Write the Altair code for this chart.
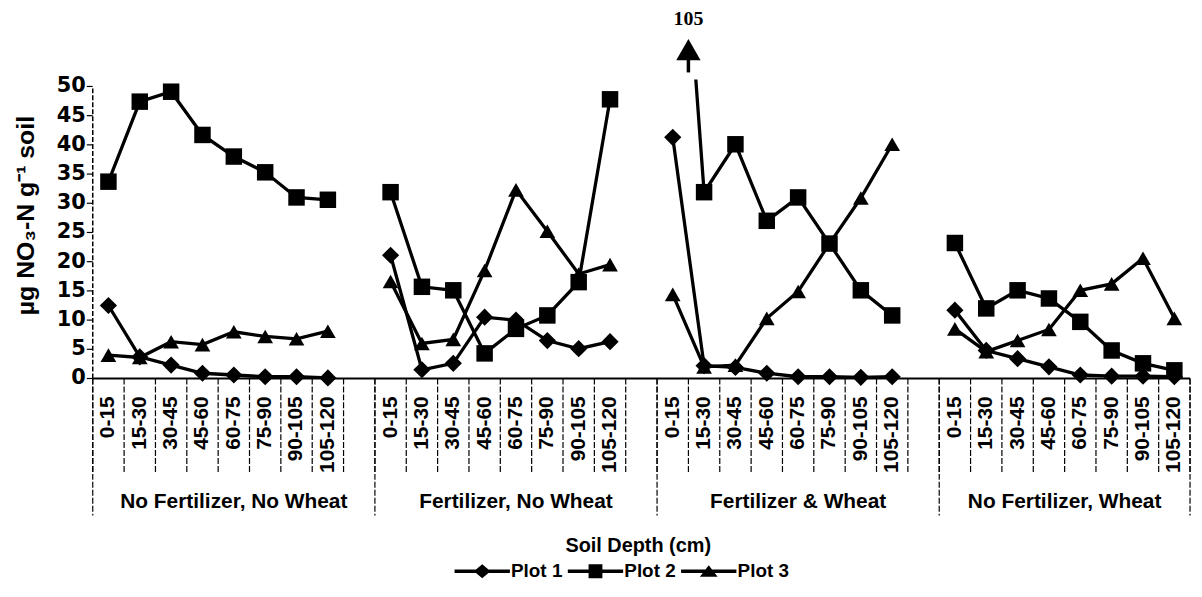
import altair as alt
import pandas as pd

# ---------------- data ----------------
depths = ["0-15", "15-30", "30-45", "45-60", "60-75", "75-90", "90-105", "105-120"]
treatments = ["No Fertilizer, No Wheat", "Fertilizer, No Wheat",
              "Fertilizer & Wheat", "No Fertilizer, Wheat"]
series_names = ["Plot 1", "Plot 2", "Plot 3"]

# values per treatment (8 depths each), in treatment order
plot1 = [12.5, 3.7, 2.3, 0.9, 0.6, 0.3, 0.3, 0.1,
         21.1, 1.5, 2.6, 10.5, 10.0, 6.5, 5.1, 6.3,
         41.3, 2.2, 1.9, 0.9, 0.3, 0.3, 0.2, 0.3,
         11.7, 4.8, 3.4, 2.0, 0.6, 0.4, 0.4, 0.3]
plot2 = [33.7, 47.4, 49.1, 41.7, 38.0, 35.3, 31.0, 30.6,
         31.9, 15.7, 15.1, 4.3, 8.5, 10.8, 16.5, 47.8,
         105.0, 31.9, 40.1, 27.0, 31.0, 23.1, 15.1, 10.8,
         23.2, 12.0, 15.1, 13.7, 9.7, 4.8, 2.6, 1.4]
plot3 = [4.0, 3.6, 6.3, 5.8, 8.0, 7.2, 6.8, 8.1,
         16.6, 6.0, 6.7, 18.5, 32.3, 25.2, 17.9, 19.5,
         14.4, 2.0, 2.3, 10.3, 14.9, 23.1, 30.9, 40.1,
         8.5, 4.6, 6.5, 8.4, 15.1, 16.2, 20.6, 10.3]
y_ticks = [0, 5, 10, 15, 20, 25, 30, 35, 40, 45, 50]
y_title = "µg NO₃-N g⁻¹ soil"
x_title = "Soil Depth (cm)"
off_scale_label = "105"

# ---------------- layout constants ----------------
SLOTS = 9          # 8 depth categories + 1 empty category per treatment
N_SLOTS = 35
Y_TOP = 51.2
W, H = 1104.4, 301
FONT = "Liberation Sans"
NBSP = "\u00a0"

rows = []
for name, vals in zip(series_names, [plot1, plot2, plot3]):
    for gi, t in enumerate(treatments):
        for di, d in enumerate(depths):
            rows.append({"series": name, "treatment": t, "depth": d,
                         "slot": gi * SLOTS + di + 0.5,
                         "value": vals[gi * len(depths) + di]})
df = pd.DataFrame(rows)

depth_df = pd.DataFrame([{"slot": gi * SLOTS + di + 0.5, "depth": d}
                         for gi in range(len(treatments)) for di, d in enumerate(depths)])
group_df = pd.DataFrame({
    "treatment": treatments,
    "center": [(gi * SLOTS + min(gi * SLOTS + SLOTS, N_SLOTS)) / 2 for gi in range(len(treatments))],
})
sep_df = pd.DataFrame({"b": [gi * SLOTS for gi in range(len(treatments))] + [N_SLOTS]})
bound_df = pd.DataFrame({"b": list(range(N_SLOTS + 1))})
ytick_df = pd.DataFrame({"v": y_ticks,
                         "label": [str(v) + (NBSP if v < 10 else "") for v in y_ticks]})
one = pd.DataFrame({"k": [0]})
ann = pd.DataFrame({"slot": [2 * SLOTS + 1.0], "label": [off_scale_label]})

x_scale = alt.Scale(domain=[0, N_SLOTS], nice=False, zero=False)
y_scale = alt.Scale(domain=[0, Y_TOP], nice=False, zero=True)

# ---------------- value axis (drawn through the y scale) ----------------
y_line = alt.Chart(pd.DataFrame({"lo": [y_ticks[0]], "hi": [y_ticks[-1]]})).mark_rule(
    color="black", strokeWidth=1.5, strokeDash=[5, 2]).encode(
    x=alt.value(0), y=alt.Y("lo:Q", scale=y_scale, axis=None), y2="hi:Q")
y_tick_marks = alt.Chart(ytick_df).mark_rule(color="black", strokeWidth=1.2).encode(
    x=alt.value(-6), x2=alt.value(0), y=alt.Y("v:Q", scale=y_scale, axis=None))
y_tick_labels = alt.Chart(ytick_df).mark_text(
    align="right", baseline="middle", font="DejaVu Sans", fontSize=21,
    fontWeight="bold", color="black").encode(
    x=alt.value(-7), y=alt.Y("v:Q", scale=y_scale, axis=None), text="label:N")
y_title_mark = alt.Chart(one).mark_text(
    text=y_title, angle=270, align="center", baseline="middle", font=FONT,
    fontSize=25, fontWeight="bold", color="black").encode(
    x=alt.value(-67), y=alt.value(137))

# ---------------- category axis ----------------
x_base = alt.Chart(one).mark_rule(color="black", strokeWidth=1.8).encode(
    x=alt.XDatum(0, scale=x_scale, axis=None), x2=alt.X2Datum(N_SLOTS),
    y=alt.YDatum(0, scale=y_scale, axis=None))
bound_ticks = alt.Chart(bound_df).mark_rule(color="black", strokeWidth=1.2,
                                           strokeDash=[6, 2]).encode(
    x=alt.X("b:Q", scale=x_scale, axis=None), y=alt.value(H), y2=alt.value(H + 94))
separators = alt.Chart(sep_df).mark_rule(color="black", strokeWidth=1.2,
                                        strokeDash=[6, 2]).encode(
    x=alt.X("b:Q", scale=x_scale, axis=None), y=alt.value(H), y2=alt.value(H + 138))
depth_labels = alt.Chart(depth_df).mark_text(
    angle=270, align="right", baseline="middle", font=FONT, fontSize=21,
    fontWeight="bold", color="black").encode(
    x=alt.X("slot:Q", scale=x_scale, axis=None), y=alt.value(H + 18), text="depth:N")
group_labels = alt.Chart(group_df).mark_text(
    align="center", baseline="middle", font=FONT, fontSize=21, fontWeight="bold",
    color="black").encode(
    x=alt.X("center:Q", scale=x_scale, axis=None), y=alt.value(H + 124), text="treatment:N")
x_title_mark = alt.Chart(one).mark_text(
    text=x_title, align="center", baseline="middle", font=FONT, fontSize=20,
    fontWeight="bold", color="black").encode(
    x=alt.value(549), y=alt.value(H + 169))

# ---------------- data marks ----------------
lines = alt.Chart(df).mark_line(color="black", strokeWidth=3.3, clip=True).encode(
    x=alt.X("slot:Q", scale=x_scale, axis=None),
    y=alt.Y("value:Q", scale=y_scale, axis=None),
    detail=["series:N", "treatment:N"],
)
points = alt.Chart(df).transform_filter(f"datum.value <= {Y_TOP}").mark_point(
    filled=True, color="black", opacity=1).encode(
    x=alt.X("slot:Q", scale=x_scale, axis=None),
    y=alt.Y("value:Q", scale=y_scale, axis=None),
    shape=alt.Shape("series:N", scale=alt.Scale(domain=series_names,
                    range=["diamond", "square", "triangle-up"]), legend=None),
    size=alt.Size("series:N", scale=alt.Scale(domain=series_names, range=[300, 250, 340]),
                  legend=None),
)

# off-scale marker for the 105 value
arrow_stem = alt.Chart(ann).mark_rule(color="black", strokeWidth=3.5).encode(
    x=alt.X("slot:Q", axis=None), y=alt.YDatum(52.4, axis=None), y2=alt.Y2Datum(54.7))
arrow_head = alt.Chart(ann).mark_point(shape="triangle-up", filled=True, color="black",
                                       opacity=1, size=600).encode(
    x=alt.X("slot:Q", axis=None), y=alt.YDatum(56.3, axis=None))
arrow_text = alt.Chart(ann).mark_text(font="Liberation Serif", fontSize=20,
                                      fontWeight="bold", color="black").encode(
    x=alt.X("slot:Q", axis=None), y=alt.YDatum(61.6, axis=None), text="label:N")

legend_paths = [
    "M-1,-0.065H1V0.065H-1Z M0,-0.25L0.3,0L0,0.25L-0.3,0Z",
    "M-1,-0.065H1V0.065H-1Z M-0.25,-0.25H0.25V0.25H-0.25Z",
    "M-1,-0.065H1V0.065H-1Z M0,-0.22L0.32,0.2H-0.32Z",
]
legend_layer = alt.Chart(df).transform_filter("false").mark_point(
    filled=True, color="black", opacity=1).encode(
    x=alt.X("slot:Q", axis=None), y=alt.Y("value:Q", axis=None),
    shape=alt.Shape("series:N", scale=alt.Scale(domain=series_names, range=legend_paths),
                    legend=alt.Legend(orient="none", legendX=364, legendY=467,
                                      direction="horizontal", title=None,
                                      symbolSize=3100, symbolFillColor="black",
                                      symbolStrokeColor="black", symbolStrokeWidth=0,
                                      symbolOpacity=1, labelFont=FONT, labelFontSize=19,
                                      labelFontWeight="bold", labelColor="black",
                                      labelOffset=1, columnPadding=5, padding=0)),
)

chart = alt.layer(
    y_line, y_tick_marks, y_tick_labels, y_title_mark,
    x_base, bound_ticks, separators, depth_labels, group_labels, x_title_mark,
    lines, points, arrow_stem, arrow_head, arrow_text, legend_layer
).resolve_scale(shape="independent").properties(
    width=W, height=H,
    padding={"left": 85.3, "top": 70, "right": 4, "bottom": 218},
    autosize=alt.AutoSizeParams(type="none"),
    background="white",
).configure_view(stroke=None)

chart.save("out.html", embed_options={"renderer": "svg", "actions": False})
